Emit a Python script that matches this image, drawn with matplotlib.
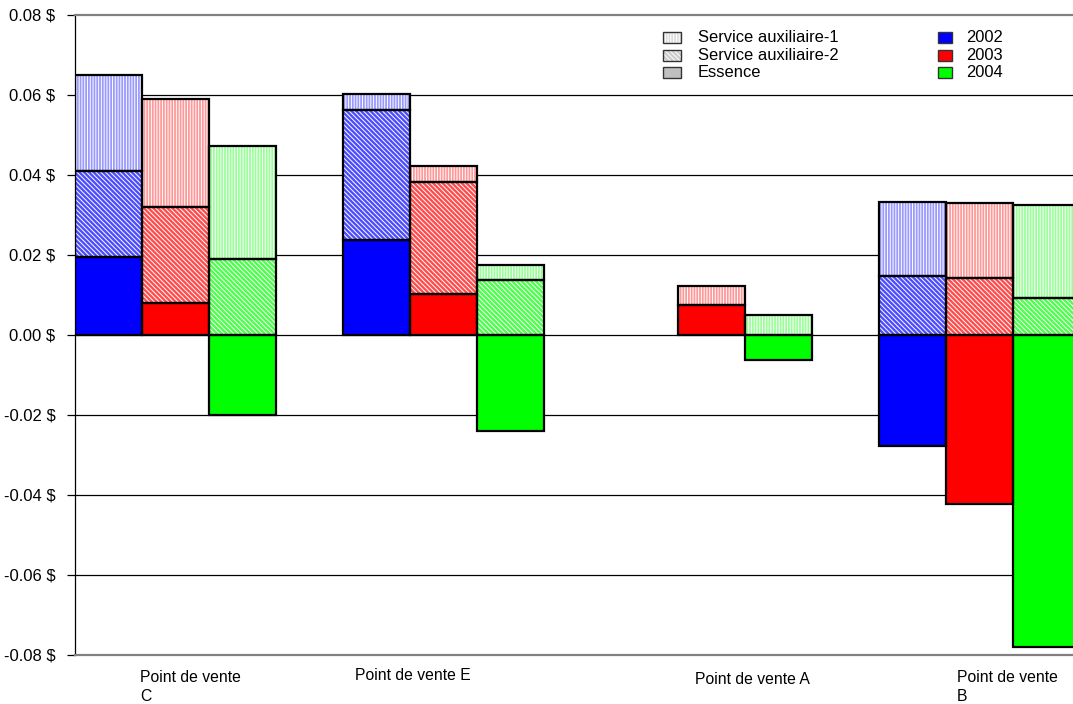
import matplotlib
matplotlib.use("Agg")
import matplotlib.pyplot as plt
from matplotlib.patches import Rectangle
from matplotlib.colors import to_rgb
from matplotlib.ticker import FixedLocator, FuncFormatter

plt.rcParams['font.family'] = ['Liberation Sans', 'DejaVu Sans']
plt.rcParams['hatch.linewidth'] = 0.7

# Points of sale (x categories)
points = ['Point de vente\nC', 'Point de vente E', 'Point de vente A', 'Point de vente\nB']
years = ['2002', '2003', '2004']
year_colors = ['#0000ff', '#ff0000', '#00ff00']

# Margin per litre ($), one list per year, ordered C, E, A, B (None = no bar)
essence_2002 = [0.0195, 0.0238, None, -0.0278]
essence_2003 = [0.0080, 0.0103, 0.0075, -0.0423]
essence_2004 = [-0.0200, -0.0240, -0.0063, -0.0780]

service2_2002 = [0.0215, 0.0325, None, 0.0148]
service2_2003 = [0.0240, 0.0280, 0.0, 0.0143]
service2_2004 = [0.0190, 0.0138, 0.0, 0.0093]

service1_2002 = [0.0240, 0.0040, None, 0.0185]
service1_2003 = [0.0270, 0.0040, 0.0048, 0.0188]
service1_2004 = [0.0283, 0.0037, 0.0050, 0.0231]

essence = [essence_2002, essence_2003, essence_2004]
service2 = [service2_2002, service2_2003, service2_2004]
service1 = [service1_2002, service1_2003, service1_2004]

yticks = [-0.08, -0.06, -0.04, -0.02, 0.0, 0.02, 0.04, 0.06, 0.08]


def tint(color, amount):
    """Mix a colour with white; amount is the share of the original colour."""
    r, g, b = to_rgb(color)
    return (1 - amount * (1 - r), 1 - amount * (1 - g), 1 - amount * (1 - b))


W, H = 1073, 704
fig = plt.figure(figsize=(W / 100, H / 100), dpi=100)
n_slots = 4 * len(points)
bar_px = 67
ax = fig.add_axes([75 / W, 1 - 655 / H, n_slots * bar_px / W, 640 / H])
ax.set_xlim(0, n_slots)
ax.set_ylim(-0.08, 0.08)

for y in yticks[1:-1]:
    ax.axhline(y, color='black', lw=0.9, zorder=1)

outline = dict(facecolor='none', edgecolor='black', linewidth=1.6, zorder=4)


def segment(x, bottom, height, face, hatch=None):
    if height == 0:
        return
    if hatch is None:
        ax.bar(x, height, bottom=bottom, width=1, align='edge',
               color=face, linewidth=0, zorder=2)
    else:
        ax.bar(x, height, bottom=bottom, width=1, align='edge',
               facecolor=face, edgecolor='white', hatch=hatch,
               linewidth=0, zorder=2)
    ax.bar(x, height, bottom=bottom, width=1, align='edge', **outline)


for j, color in enumerate(year_colors):
    for i in range(len(points)):
        e = essence[j][i]
        if e is None:
            continue
        x = 4 * i + j
        segment(x, 0, e, color)
        base = max(e, 0.0)
        s2 = service2[j][i]
        segment(x, base, s2, tint(color, 0.7), hatch='\\\\\\\\\\\\\\')
        base += s2
        segment(x, base, service1[j][i], tint(color, 0.4), hatch='||||||')

# Frame: gray top/bottom borders, black left axis
for side in ('top', 'bottom'):
    ax.spines[side].set_color('#808080')
    ax.spines[side].set_linewidth(1.6)
ax.spines['right'].set_visible(False)
ax.spines['left'].set_color('black')
ax.spines['left'].set_linewidth(0.9)

ax.yaxis.set_major_locator(FixedLocator(yticks))
ax.yaxis.set_major_formatter(FuncFormatter(lambda v, p: f"{v:.2f} $".replace('-0.00', '0.00')))
ax.tick_params(axis='y', direction='out', length=6, width=0.9, labelsize=12, pad=8)
ax.set_xticks([])

# Category labels under the plot
label_pos = [(140, 670), (355, 668), (695, 672), (957, 670)]
for text, (px, py) in zip(points, label_pos):
    fig.text(px / W, 1 - py / H, text, ha='left', va='top', fontsize=11.3,
             linespacing=1.35)


# Legend
def legend_box(px, py, w, h, face, hatch=None):
    if hatch is not None:
        fig.add_artist(Rectangle((px / W, 1 - (py + h) / H), w / W, h / H,
                                 transform=fig.transFigure, facecolor=face,
                                 edgecolor='white', hatch=hatch, linewidth=0))
    fig.add_artist(Rectangle((px / W, 1 - (py + h) / H), w / W, h / H,
                             transform=fig.transFigure,
                             facecolor=face if hatch is None else 'none',
                             edgecolor='#333333', linewidth=1.0))


left_items = [('Service auxiliaire-1', '#dddddd', '||||||'),
              ('Service auxiliaire-2', '#cccccc', '\\\\\\\\\\\\\\'),
              ('Essence', '#c0c0c0', None)]
row_y = [32, 50, 67]
for (lab, face, hatch), ry in zip(left_items, row_y):
    legend_box(663, ry, 18, 11, face, hatch)
    fig.text(698 / W, 1 - (ry + 5.5) / H, lab, ha='left', va='center', fontsize=11.9)
for yr, col, ry in zip(years, year_colors, row_y):
    legend_box(938, ry, 14, 11, col)
    fig.text(966 / W, 1 - (ry + 5.5) / H, yr, ha='left', va='center', fontsize=11.9)

fig.savefig('out.png', dpi=100)
